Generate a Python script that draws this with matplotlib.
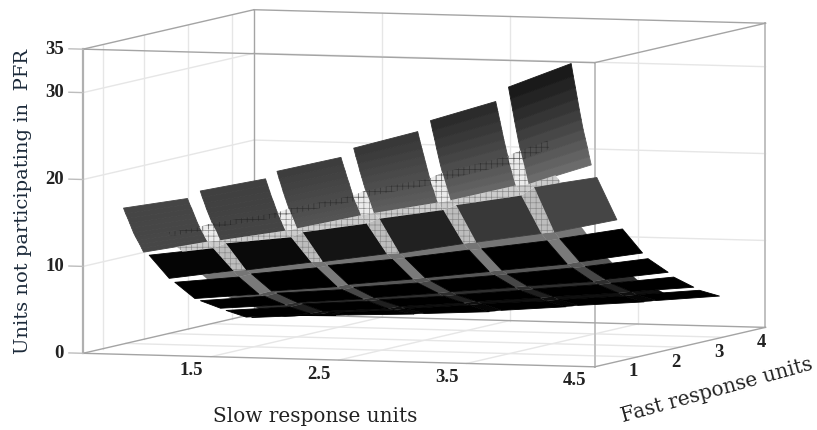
import matplotlib
matplotlib.use('Agg')
import matplotlib.pyplot as plt
from mpl_toolkits.mplot3d.art3d import Poly3DCollection
from mpl_toolkits.mplot3d import proj3d

# Grid: tile edges on both axes, height at every edge pair
slow_edges = [0.65, 1.15, 1.25, 1.76, 1.85, 2.35, 2.45, 2.95, 3.05, 3.56, 3.66, 4.15]
fast_edges = [0.50, 0.55, 0.60, 0.645, 0.69, 0.735, 0.78, 0.83, 0.88, 0.925, 0.97,
              1.10, 1.57, 1.70, 2.17, 2.30, 2.77, 2.90, 3.37, 3.50, 3.97]
units = [
    [16.2, 17.5, 18.4, 20.0, 20.9, 22.7, 23.8, 25.9, 27.2, 29.6, 31.3, 34.2],
    [15.5, 16.8, 17.6, 19.2, 20.0, 21.8, 22.8, 24.8, 26.0, 28.4, 29.9, 32.7],
    [14.9, 16.2, 16.9, 18.4, 19.2, 21.0, 21.9, 23.8, 24.9, 27.2, 28.5, 31.3],
    [14.3, 15.6, 16.2, 17.7, 18.4, 20.2, 21.0, 22.9, 23.8, 26.1, 27.2, 30.0],
    [13.7, 15.0, 15.6, 17.1, 17.7, 19.5, 20.2, 22.0, 22.8, 25.0, 26.0, 28.7],
    [13.1, 14.4, 15.0, 16.4, 17.0, 18.7, 19.4, 21.1, 21.8, 24.0, 24.8, 27.5],
    [12.6, 13.9, 14.4, 15.8, 16.3, 18.0, 18.6, 20.2, 20.9, 23.0, 23.7, 26.3],
    [12.1, 13.4, 13.8, 15.2, 15.6, 17.3, 17.9, 19.4, 20.0, 22.0, 22.6, 25.2],
    [11.6, 12.9, 13.3, 14.6, 15.0, 16.7, 17.2, 18.7, 19.1, 21.1, 21.6, 24.1],
    [11.1, 12.4, 12.7, 14.0, 14.4, 16.1, 16.5, 17.9, 18.3, 20.2, 20.6, 23.0],
    [10.6, 12.0, 12.2, 13.5, 13.8, 15.5, 15.8, 17.2, 17.5, 19.4, 19.6, 22.0],
    [10.1, 11.1, 11.7, 12.6, 13.2, 14.4, 15.0, 16.2, 16.8, 18.1, 19.1, 20.4],
    [6.9, 8.0, 8.1, 9.2, 9.3, 10.4, 10.5, 11.8, 12.0, 13.2, 13.4, 15.0],
    [6.3, 7.1, 7.5, 8.4, 8.7, 9.6, 9.8, 10.9, 11.1, 12.2, 12.5, 13.8],
    [3.9, 4.6, 5.0, 5.7, 6.0, 6.8, 7.0, 7.9, 8.1, 9.0, 9.3, 10.5],
    [3.5, 4.2, 4.6, 5.2, 5.5, 6.2, 6.5, 7.3, 7.5, 8.4, 8.6, 9.7],
    [2.1, 2.7, 3.0, 3.6, 3.8, 4.5, 4.7, 5.4, 5.6, 6.3, 6.6, 7.6],
    [1.7, 2.3, 2.7, 3.2, 3.4, 4.0, 4.2, 4.9, 5.1, 5.8, 6.0, 6.9],
    [0.4, 1.0, 1.3, 1.8, 2.1, 2.7, 2.9, 3.5, 3.7, 4.3, 4.5, 5.2],
    [0.2, 0.7, 1.0, 1.5, 1.7, 2.3, 2.5, 3.0, 3.2, 3.8, 4.0, 4.7],
    [0.0, 0.1, 0.2, 0.5, 0.6, 1.0, 1.2, 1.8, 2.0, 2.6, 2.8, 3.5],
]

# Second, narrower mesh surface: its two side edges, for rows 6 to 19 of fast_edges
mesh_slow_start = 0.91
mesh_slow_end = 3.87
mesh_start_units = [13.2, 12.7, 12.2, 11.8, 11.3, 10.6, 7.4, 6.7, 4.2, 3.8, 2.4, 2.0, 0.7, 0.4]
mesh_end_units = [24.9, 23.9, 22.9, 21.8, 20.7, 19.7, 14.1, 13.1, 9.9, 9.1, 7.1, 6.4, 4.8, 4.3]

slow_ticks = [1.5, 2.5, 3.5, 4.5]
fast_ticks = [1, 2, 3, 4]
unit_ticks = [0, 10, 20, 30, 35]
side_wall_fast = [0.46, 1.43, 2.46, 3.49]

# Greys of the tiles and strips
front_top_grey = [0.27, 0.25, 0.24, 0.22, 0.17, 0.10]
front_bottom_grey = [0.28, 0.27, 0.33, 0.37, 0.40, 0.42]
second_row_grey = [0.02, 0.04, 0.08, 0.13, 0.22, 0.27]
strip_grey = [0.92, 0.92, 0.92, 0.92, 0.80, 0.74, 0.46, 0.48, 0.34, 0.28, 0.18, 0.12, 0.06, 0.02]

plt.rcParams['hatch.linewidth'] = 0.5
BOX = '#a4a4a4'
GRID = '#e6e6e6'
FONT = 'Liberation Serif'
LABEL_FONT = 'DejaVu Serif'
SLOW_LIM = (0.5, 4.5)
FAST_LIM = (0.0, 4.0)
UNIT_LIM = (0, 35)


def cell(i0, i1, j0, j1):
    return [(slow_edges[i0], fast_edges[j0], units[j0][i0]),
            (slow_edges[i1], fast_edges[j0], units[j0][i1]),
            (slow_edges[i1], fast_edges[j1], units[j1][i1]),
            (slow_edges[i0], fast_edges[j1], units[j1][i0])]


def mesh_side_cells(j0, j1):
    # the part of a mesh row that sticks into the first and last tile column
    left = [(mesh_slow_start, fast_edges[j0], mesh_start_units[j0 - 6]),
            (slow_edges[1], fast_edges[j0], units[j0][1]),
            (slow_edges[1], fast_edges[j1], units[j1][1]),
            (mesh_slow_start, fast_edges[j1], mesh_start_units[j1 - 6])]
    right = [(slow_edges[10], fast_edges[j0], units[j0][10]),
             (mesh_slow_end, fast_edges[j0], mesh_end_units[j0 - 6]),
             (mesh_slow_end, fast_edges[j1], mesh_end_units[j1 - 6]),
             (slow_edges[10], fast_edges[j1], units[j1][10])]
    return [left, right]


def line(ax, p, q, color=BOX, lw=1.0):
    ax.plot([p[0], q[0]], [p[1], q[1]], [p[2], q[2]], color=color, lw=lw, zorder=0)


def tick_label(ax, p, s, dx, dy, ha):
    # 3D point to 2D, the label then sits a few pixels off it
    x2, y2, _ = proj3d.proj_transform(p[0], p[1], p[2], ax.get_proj())
    ax.annotate(s, xy=(x2, y2), xytext=(dx, dy), textcoords='offset pixels', family=FONT,
                fontsize=13.5, fontweight='bold', ha=ha, va='center', color='#222222')


fig = plt.figure(figsize=(8.17, 4.30), dpi=100)
S, cx, cy = 794.0, 413.5, 199.0
ax = fig.add_axes([(cx - S / 2) / 817, 1 - (cy + S / 2) / 430, S / 817, S / 430],
                  projection='3d', computed_zorder=False, proj_type='ortho')
ax.view_init(elev=4.48, azim=-71.3)
ax.set_box_aspect((540, 533, 305))
ax.set_axis_off()

x0, x1 = SLOW_LIM
y0, y1 = FAST_LIM
z0, z1 = UNIT_LIM

# Walls and floor
for t in unit_ticks[1:-1]:
    line(ax, (x0, y0, t), (x0, y1, t), GRID)
    line(ax, (x0, y1, t), (x1, y1, t), GRID)
for t in slow_ticks[:-1]:
    line(ax, (t, y1, z0), (t, y1, z1), GRID)
    line(ax, (t, y0, z0), (t, y1, z0), GRID)
for t in side_wall_fast:
    line(ax, (x0, t, z0), (x0, t, z1), GRID)
for t in fast_ticks[:-1]:
    line(ax, (x0, t, z0), (x1, t, z0), GRID)

# Box edges
line(ax, (x0, y0, z0), (x0, y0, z1), '#b0b0b0', 1.6)
line(ax, (x0, y1, z0), (x0, y1, z1), BOX, 1.0)
line(ax, (x1, y0, z0), (x1, y0, z1), '#c0c0c0', 1.4)
line(ax, (x1, y1, z0), (x1, y1, z1), '#c0c0c0', 1.4)
for z in (z0, z1):
    line(ax, (x0, y0, z), (x1, y0, z))
    line(ax, (x0, y1, z), (x1, y1, z))
    line(ax, (x0, y0, z), (x0, y1, z))
    line(ax, (x1, y0, z), (x1, y1, z))

# Tiles
tile_polys, tile_colors = [], []
for col in range(6):
    i0, i1 = col * 2, col * 2 + 1
    for band in range(10):
        g = front_top_grey[col] + (front_bottom_grey[col] - front_top_grey[col]) * band / 9
        tile_polys.append(cell(i0, i1, band, band + 1))
        tile_colors.append((g, g, g))
    for j0 in (11, 13, 15, 17, 19):
        g = second_row_grey[col] if j0 == 11 else 0.0
        tile_polys.append(cell(i0, i1, j0, j0 + 1))
        tile_colors.append((g, g, g))

# Strips between the tiles
lit_polys, lit_colors, dark_polys, dark_colors = [], [], [], []
for j0 in range(6, 20):
    g = strip_grey[j0 - 6]
    polys = []
    if j0 in (10, 12, 14, 16, 18):
        # rows between tiles run right across
        polys += mesh_side_cells(j0, j0 + 1)
        polys += [cell(i, i + 1, j0, j0 + 1) for i in range(1, 10)]
    else:
        polys += [cell(i, i + 1, j0, j0 + 1) for i in (1, 3, 5, 7, 9)]
    if g > 0.7:
        lit_polys += polys
        lit_colors += [(g, g, g)] * len(polys)
    else:
        dark_polys += polys
        dark_colors += [(g, g, g)] * len(polys)

ax.add_collection3d(Poly3DCollection(dark_polys, facecolors=dark_colors, edgecolors=dark_colors,
                                     linewidths=0.2, zorder=1))
ax.add_collection3d(Poly3DCollection(tile_polys, facecolors=tile_colors, edgecolors=tile_colors,
                                     linewidths=0.6, zorder=2))
ax.add_collection3d(Poly3DCollection(lit_polys, facecolors=lit_colors, edgecolors=(0.55, 0.55, 0.55),
                                     linewidths=0, hatch='+++', zorder=3))

# Mesh showing through the front tiles
through = mesh_side_cells(6, 7) + [cell(i, i + 1, 6, 7) for i in range(1, 10)]
ax.add_collection3d(Poly3DCollection(through, facecolors=(0, 0, 0, 0), edgecolors=(0, 0, 0, 0.35),
                                     linewidths=0, hatch='+++', zorder=4))

ax.set_xlim(x0, x1, view_margin=0)
ax.set_ylim(y0, y1, view_margin=0)
ax.set_zlim(z0, z1, view_margin=0)

# Ticks and tick labels
for t in unit_ticks:
    line(ax, (x0, y0, t), (x0 - 0.11, y0, t), '#bdbdbd', 1.0)
    tick_label(ax, (x0, y0, t), str(t), -19, 0, 'right')
for t in slow_ticks:
    tick_label(ax, (t, y0, z0), str(t), -20, -14, 'center')
for t in fast_ticks:
    tick_label(ax, (x1, t, z0), str(t), -4, -15, 'center')

ax.set_xlim(x0, x1, view_margin=0)

# Axis titles
fig.text(23 / 817, 1 - 201 / 430, 'Units not participating in  PFR', family=LABEL_FONT, fontsize=14,
         rotation=90, ha='center', va='center', color='#1c2a3a')
fig.text(315 / 817, 1 - 416 / 430, 'Slow response units', family=LABEL_FONT, fontsize=14.4,
         ha='center', va='center', color='#222222')
fig.text(717 / 817, 1 - 390 / 430, 'Fast response units', family=LABEL_FONT, fontsize=14.4,
         rotation=15.5, ha='center', va='center', color='#222222')

fig.savefig('out.png', dpi=100)
